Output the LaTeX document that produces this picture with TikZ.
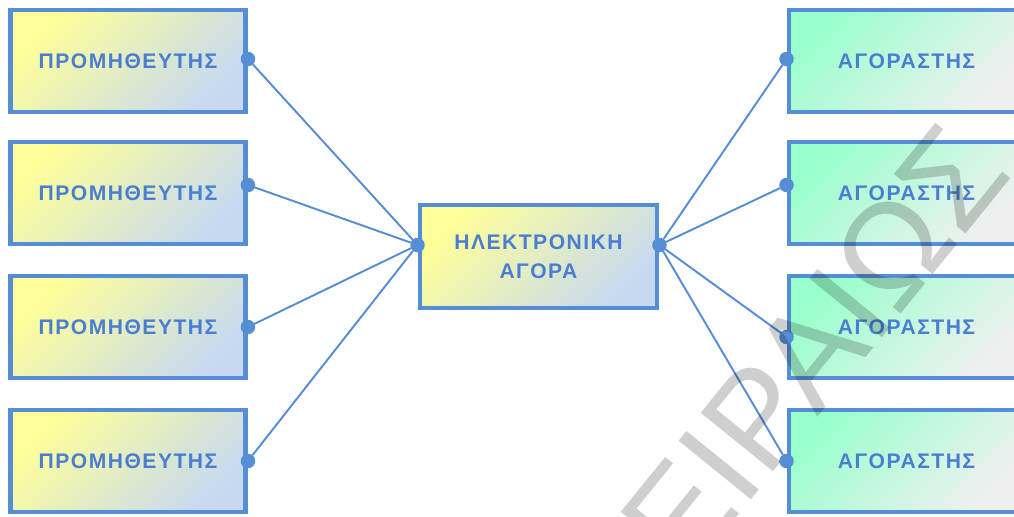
\documentclass[tikz,border=0pt]{standalone}
\usepackage{fontspec}
\setmainfont{Liberation Sans}
\newfontfamily\boxfont[LetterSpace=7]{Liberation Sans}
\usetikzlibrary{positioning}

\definecolor{frameblue}{HTML}{558ED5}
\definecolor{textblue}{HTML}{4A7ED3}
\definecolor{sellyellow}{HTML}{FFFF99}
\definecolor{sellblue}{HTML}{C6D9F1}
\definecolor{buygreen}{HTML}{99FFCC}
\definecolor{buygray}{HTML}{F0F0F0}

\tikzset{
  box/.style={rectangle, draw=frameblue, line width=2.8pt, minimum width=4.7cm,
    minimum height=2.04cm, text=textblue, align=center,
    font=\boxfont\bfseries\fontsize{12}{16.5}\selectfont},
  seller/.style={box, top color=sellyellow, bottom color=sellblue, shading angle=45},
  buyer/.style={box, top color=buygreen, bottom color=buygray, shading angle=45},
  joint/.style={circle, fill=frameblue, inner sep=0pt, minimum size=0.29cm},
  link/.style={draw=frameblue, line width=1.1pt},
  watermark/.style={inner sep=0pt, text=black, text opacity=0.19,
    font=\fontsize{77}{77}\selectfont}
}

\begin{document}
\begin{tikzpicture}[line cap=round]
  \useasboundingbox (0,0) rectangle (20.28,-10.32);
  \clip (0,0) rectangle (20.28,-10.32);

  % suppliers
  \node[seller] (s1) at (2.56,-1.22) {ΠΡΟΜΗΘΕΥΤΗΣ};
  \node[seller] (s2) at (2.56,-3.86) {ΠΡΟΜΗΘΕΥΤΗΣ};
  \node[seller] (s3) at (2.56,-6.54) {ΠΡΟΜΗΘΕΥΤΗΣ};
  \node[seller] (s4) at (2.56,-9.22) {ΠΡΟΜΗΘΕΥΤΗΣ};

  % the market
  \node[seller, minimum width=4.74cm, minimum height=2.06cm] (m) at (10.77,-5.13) {ΗΛΕΚΤΡΟΝΙΚΗ\\ΑΓΟΡΑ};

  % buyers
  \node[buyer] (b1) at (18.13,-1.22) {ΑΓΟΡΑΣΤΗΣ};
  \node[buyer] (b2) at (18.13,-3.86) {ΑΓΟΡΑΣΤΗΣ};
  \node[buyer] (b3) at (18.13,-6.54) {ΑΓΟΡΑΣΤΗΣ};
  \node[buyer] (b4) at (18.13,-9.22) {ΑΓΟΡΑΣΤΗΣ};

  % connection points
  \node[joint] (s1j) at ([yshift=0.04cm]s1.east) {};
  \node[joint] (s2j) at ([yshift=0.16cm]s2.east) {};
  \node[joint] (s3j) at (s3.east) {};
  \node[joint] (s4j) at (s4.east) {};
  \node[joint] (ml) at ([yshift=0.23cm]m.west) {};
  \node[joint] (mr) at ([yshift=0.23cm]m.east) {};
  \node[joint] (b1j) at ([yshift=0.04cm]b1.west) {};
  \node[joint] (b2j) at ([yshift=0.16cm]b2.west) {};
  \node[joint] (b3j) at ([yshift=-0.2cm]b3.west) {};
  \node[joint] (b4j) at (b4.west) {};

  \foreach \j in {s1j, s2j, s3j, s4j}
    \draw[link] (\j) -- (ml);
  \foreach \j in {b1j, b2j, b3j, b4j}
    \draw[link] (mr) -- (\j);

  \node[watermark, rotate=51, anchor=east] (wm) at (19.55,-2.9) {ΠΕΙΡΑΙΩΣ};
\end{tikzpicture}
\end{document}
